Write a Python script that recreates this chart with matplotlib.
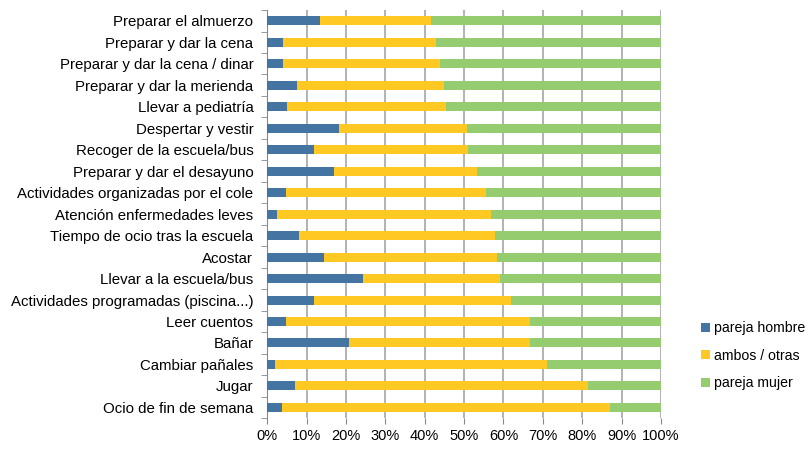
import numpy as np
import matplotlib.pyplot as plt

plt.rcParams['font.family'] = ['Liberation Sans', 'DejaVu Sans']

tareas = ['Preparar el almuerzo', 'Preparar y dar la cena',
          'Preparar y dar la cena / dinar', 'Preparar y dar la merienda',
          'Llevar a pediatría', 'Despertar y vestir', 'Recoger de la escuela/bus',
          'Preparar y dar el desayuno', 'Actividades organizadas por el cole',
          'Atención enfermedades leves', 'Tiempo de ocio tras la escuela',
          'Acostar', 'Llevar a la escuela/bus',
          'Actividades programadas (piscina...)', 'Leer cuentos', 'Bañar',
          'Cambiar pañales', 'Jugar', 'Ocio de fin de semana']

# porcentajes
hombre = [13.4, 4.1, 4.1, 7.7, 5.1, 18.2, 11.9, 16.9, 4.7, 2.5,
          8.0, 14.4, 24.3, 11.9, 4.7, 20.8, 1.9, 7.0, 3.7]
acumulado = [41.5, 43.0, 43.9, 45.0, 45.3, 50.7, 51.1, 53.3, 55.5, 56.8,
             57.8, 58.4, 59.0, 62.0, 66.8, 66.8, 71.0, 81.5, 87.0]

hombre = np.array(hombre) / 100
ambos = np.array(acumulado) / 100 - hombre
mujer = 1 - hombre - ambos

fig = plt.figure(figsize=(8.12, 4.57), dpi=100)
ax = fig.add_axes([0.329, 0.085, 0.485, 0.893])

y = np.arange(len(tareas))
h = 0.42
ax.barh(y, hombre, h, color='#4474a2', label='pareja hombre', zorder=3)
ax.barh(y, ambos, h, left=hombre, color='#ffc823', label='ambos / otras', zorder=3)
ax.barh(y, mujer, h, left=hombre + ambos, color='#95cc6f', label='pareja mujer', zorder=3)

ax.set_xlim(0, 1)
ax.set_ylim(len(tareas) - 0.5, -0.5)
ax.set_xticks(np.linspace(0, 1, 11))
ax.set_xticklabels([f'{i}%' for i in range(0, 101, 10)], fontsize=10.5)
ax.set_yticks(y)
ax.set_yticklabels(tareas, fontsize=10.8)
ax.set_yticks(np.arange(len(tareas) + 1) - 0.5, minor=True)
ax.tick_params(axis='y', which='major', length=0, pad=10)
ax.tick_params(axis='y', which='minor', length=4, color='#888888')
ax.tick_params(axis='x', length=4, color='#888888', pad=4)
ax.grid(axis='x', color='#a6a6a6', linewidth=1.2, zorder=0)
for s in ['top', 'right', 'bottom']:
    ax.spines[s].set_visible(False)
ax.spines['left'].set_color('#888888')

ax.legend(loc='center left', bbox_to_anchor=(1.07, 0.153), frameon=False,
          fontsize=10.2, handlelength=0.6, handleheight=0.6, handletextpad=0.3,
          labelspacing=0.95)

fig.savefig('out.png', dpi=100)
